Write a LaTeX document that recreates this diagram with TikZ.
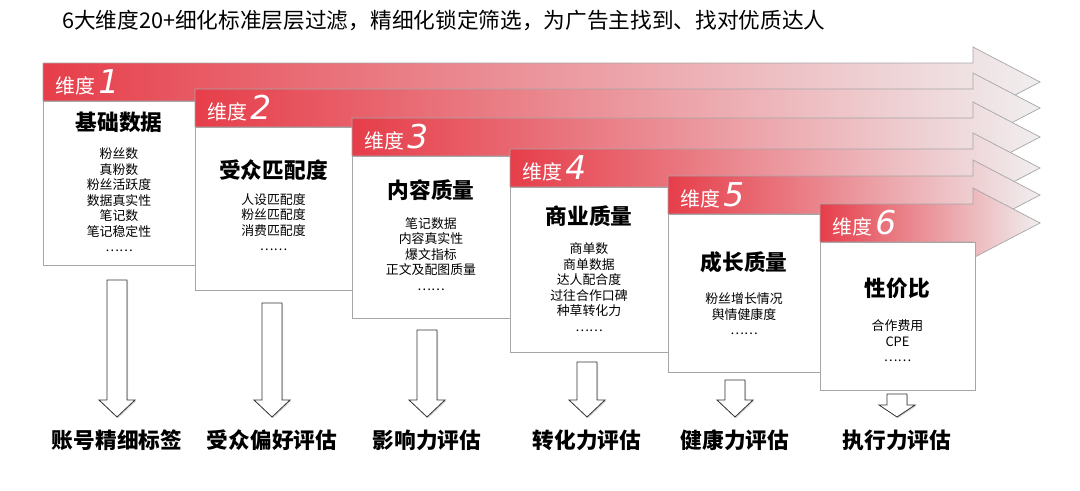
\documentclass[tikz,border=0pt]{standalone}
\usepackage{fontspec}
\setmainfont{Noto Sans CJK SC}
\newfontfamily\numfont{DejaVu Sans}
\usetikzlibrary{shadows}
\definecolor{dimred}{HTML}{E63E4A}
\definecolor{dimgrey}{HTML}{F0EEEF}
\tikzset{
  band/.style={left color=dimred,right color=dimgrey,draw=gray!70,line width=0.6pt},
  card/.style={fill=white,draw=gray!70,line width=0.6pt,drop shadow={shadow xshift=1pt,shadow yshift=-1pt,opacity=0.25}},
  dimlabel/.style={anchor=west,text=white,font=\fontsize{17}{17}\selectfont},
  heading/.style={font=\fontsize{18.5}{18.5}\selectfont\bfseries},
  items/.style={align=center,font=\fontsize{11}{13.2}\selectfont},
  downarrow/.style={fill=white,draw=black!80,line width=0.7pt,drop shadow={shadow xshift=1pt,shadow yshift=-1pt,opacity=0.3}},
  result/.style={font=\fontsize{18.5}{18.5}\selectfont\bfseries}
}
\begin{document}
\begin{tikzpicture}[x=0.03cm,y=-0.03cm]
\useasboundingbox (0,0) rectangle (1080,490);
\node[anchor=west,font=\fontsize{18.5}{18.5}\selectfont] (title) at (58,20) {6大维度20+细化标准层层过滤，精细化锁定筛选，为广告主找到、找对优质达人};
% bands and cards
\foreach \i/\xl/\cy/\xr/\yb/\head/\list/\hy/\ly in {
  1/43/82/195/265/基础数据/{粉丝数\\真粉数\\粉丝活跃度\\数据真实性\\笔记数\\笔记稳定性\\……}/122/200,
  2/195/108/352/290/受众匹配度/{人设匹配度\\粉丝匹配度\\消费匹配度\\……}/170/222,
  3/352/137/510/318/内容质量/{笔记数据\\内容真实性\\爆文指标\\正文及配图质量\\……}/190/254,
  4/510/168/668/352/商业质量/{商单数\\商单数据\\达人配合度\\过往合作口碑\\种草转化力\\……}/216/287,
  5/668/195/820/372/成长质量/{粉丝增长情况\\舆情健康度\\……}/262/314,
  6/820/223/975/390/性价比/{合作费用\\CPE\\……}/288/341}{
  \shade[band] (\xl,\cy-19) -- (973,\cy-19) -- (973,\cy-35) -- (1040,\cy)
    -- (973,\cy+35) -- (973,\cy+19) -- (\xl,\cy+19) -- cycle;
  \node[dimlabel] (dim\i) at (\xl+8,\cy) {维度\,{\numfont\itshape\fontsize{28}{28}\selectfont\i}};
  \path[card] (\xl,\cy+19) rectangle (\xr,\yb);
  \node[heading] (head\i) at ({(\xl+\xr)/2},\hy) {\head};
  \node[items] (items\i) at ({(\xl+\xr)/2},\ly) {\list};
}
% down arrows and results
\foreach \i/\cx/\top/\hs/\name in {1/117/280/400/账号精细标签,2/272/303/400/受众偏好评估,
  3/427/330/400/影响力评估,4/587/362/400/转化力评估,5/735/380/400/健康力评估,6/897/394/405/执行力评估}{
  \path[downarrow] (\cx-10,\top) -- (\cx+10,\top) -- (\cx+10,\hs) -- (\cx+18,\hs)
    -- (\cx,417) -- (\cx-18,\hs) -- (\cx-10,\hs) -- cycle;
  \node[result] (res\i) at (\cx,440) {\name};
}
\end{tikzpicture}
\end{document}
